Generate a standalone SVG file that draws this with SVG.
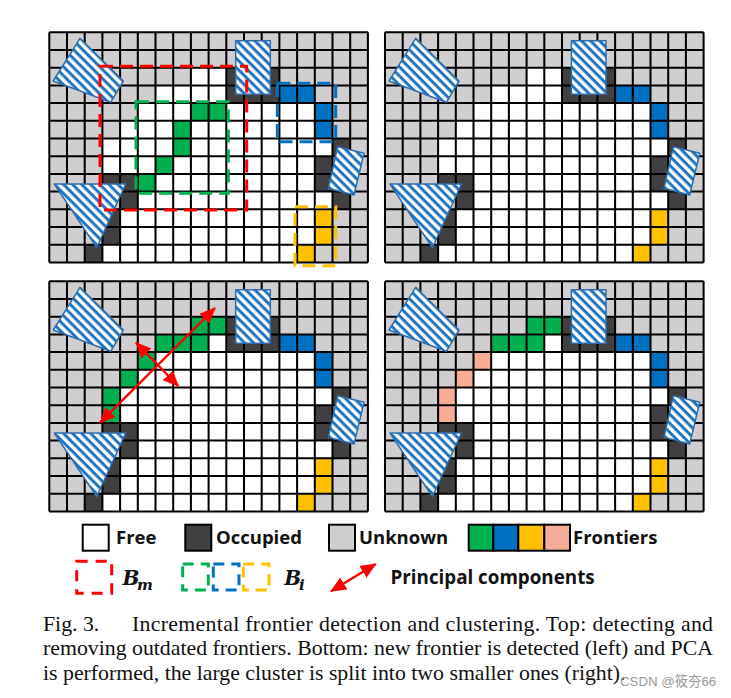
<svg xmlns="http://www.w3.org/2000/svg" xmlns:xlink="http://www.w3.org/1999/xlink" width="731" height="698" viewBox="0 0 731 698">
<style>
.unk{fill:#d0cece}.free{fill:#fff}.occ{fill:#404040}
.g{fill:#00b050}.b{fill:#0070c0}.y{fill:#ffc000}.p{fill:#f6ae99}
.lines{fill:none;stroke:#000;stroke-width:.115}
.robot{fill:url(#hatch);stroke:#2f6cae;stroke-width:1.5;stroke-linejoin:round}
.dash{fill:none;stroke-width:3}
.red{stroke:#ff0000}.dg{stroke:#00b050}.db{stroke:#0070c0}.dy{stroke:#ffc000}
.arrow{stroke:#ff0000;stroke-width:2.4;fill:none;marker-start:url(#ah);marker-end:url(#ah)}
.lab{font-family:"Open Sans","Noto Sans",sans-serif;font-weight:700;font-size:18.5px;fill:#111}
.math{font-family:"DejaVu Serif",serif;font-weight:700;font-style:italic;fill:#111}
.cap{font-family:"Liberation Serif",serif;font-size:21.8px;fill:#111}
.box{stroke:#000;stroke-width:2}
</style>
<defs>
<pattern id="hatch" patternUnits="userSpaceOnUse" width="6.4" height="6.4" patternTransform="rotate(45)">
<rect width="6.4" height="6.4" fill="#fff"/><rect width="6.4" height="3" fill="#1f75bf"/>
</pattern>
<marker id="ah" markerUnits="userSpaceOnUse" markerWidth="18" markerHeight="16" refX="15" refY="7" orient="auto-start-reverse">
<path d="M0 0L16 7L0 14z" fill="#ff0000"/>
</marker>
<g id="fills">
<rect class="unk" width="18" height="13"/>
<path class="free" d="M8 2h2v1h-2zM6 3h4v1h-4zM5 4h10v1h-10zM4 5h11v1h-11zM3 6h13v1h-13zM3 7h12v1h-12zM5 8h10v1h-10zM5 9h11v1h-11zM4 10h11v2h-11zM3 12h11v1h-11z"/>
<path class="occ" d="M10 2h3v2h-3zM16 6h1v1h-1zM15 7h1v2h-1zM3 8h2v1h-2zM4 9h1v1h-1zM3 10h1v2h-1zM2 12h1v1h-1zM16 9h1v1h-1z"/>
<path class="b" d="M13 3h2v1h-2zM15 4h1v2h-1z"/>
<path class="y" d="M15 10h1v2h-1zM14 12h1v1h-1z"/>
</g>
<path id="lines" class="lines" d="M0 0H18M0 1H18M0 2H18M0 3H18M0 4H18M0 5H18M0 6H18M0 7H18M0 8H18M0 9H18M0 10H18M0 11H18M0 12H18M0 13H18M0 0V13M1 0V13M2 0V13M3 0V13M4 0V13M5 0V13M6 0V13M7 0V13M8 0V13M9 0V13M10 0V13M11 0V13M12 0V13M13 0V13M14 0V13M15 0V13M16 0V13M17 0V13M18 0V13"/>
<g id="robots">
<polygon class="robot" points="30.7,6 74,48.7 61.4,70 4,48.7"/>
<rect class="robot" x="186.4" y="8.4" width="34.6" height="53.6"/>
<polygon class="robot" points="288.4,114.4 314.7,121 304.7,162.7 279,156"/>
<polygon class="robot" points="5,151.7 76.4,151.7 47.4,215.4"/>
</g>
</defs>

<g id="panel-top-left">
<g transform="translate(49.3 32.3) scale(17.7)">
<use href="#fills"/>
<path class="g" d="M8 4h2v1h-2zM7 5h1v2h-1zM6 7h1v1h-1zM5 8h1v1h-1z"/>
<use href="#lines"/>
</g>
<use href="#robots" transform="translate(49.3 32.3)"/>
<rect class="dash red" x="100" y="66.3" width="146.7" height="143.7" stroke-dasharray="13 7"/>
<rect class="dash dg" x="136" y="101.7" width="92.3" height="91.6" stroke-dasharray="13 7"/>
<rect class="dash db" x="277.3" y="83.3" width="58.4" height="58.4" stroke-dasharray="13 7"/>
<rect class="dash dy" x="295" y="206.7" width="40.7" height="59" stroke-dasharray="13 7"/>
</g>

<g id="panel-top-right">
<g transform="translate(385 32.3) scale(17.7)">
<use href="#fills"/>
<use href="#lines"/>
</g>
<use href="#robots" transform="translate(385 32.3)"/>
</g>

<g id="panel-bottom-left">
<g transform="translate(49.3 281.3) scale(17.7)">
<use href="#fills"/>
<path class="g" d="M8 2h2v1h-2zM6 3h3v1h-3zM5 4h1v1h-1zM4 5h1v1h-1zM3 6h1v2h-1z"/>
<use href="#lines"/>
</g>
<use href="#robots" transform="translate(49.3 281.3)"/>
<g id="connectors">
<line class="arrow" x1="100" y1="422.7" x2="215" y2="308"/>
<line class="arrow" x1="136" y1="342.7" x2="178.3" y2="386"/>
</g>
</g>

<g id="panel-bottom-right">
<g transform="translate(385 281.3) scale(17.7)">
<use href="#fills"/>
<path class="g" d="M8 2h2v1h-2zM6 3h3v1h-3z"/>
<path class="p" d="M5 4h1v1h-1zM4 5h1v1h-1zM3 6h1v2h-1z"/>
<use href="#lines"/>
</g>
<use href="#robots" transform="translate(385 281.3)"/>
</g>

<g id="legend">
<rect class="free box" x="82.7" y="524.7" width="26" height="26"/>
<text class="lab" x="116" y="544">Free</text>
<rect class="occ box" x="185.3" y="524.7" width="26" height="26"/>
<text class="lab" x="216" y="544">Occupied</text>
<rect class="unk box" x="329" y="524.7" width="26" height="26"/>
<text class="lab" x="359" y="544">Unknown</text>
<rect class="g box" x="468.7" y="524.7" width="24.6" height="26"/>
<rect class="b box" x="493.3" y="524.7" width="25" height="26"/>
<rect class="y box" x="518.3" y="524.7" width="26" height="26"/>
<rect class="p box" x="544.3" y="524.7" width="25.7" height="26"/>
<text class="lab" x="573" y="544">Frontiers</text>
<rect class="dash red" x="76.7" y="561.3" width="35" height="32" stroke-dasharray="11 8"/>
<text class="math" x="122.5" y="585" font-size="20">B</text>
<text class="math" x="137" y="590" font-size="15">m</text>
<rect class="dash dg" x="182.7" y="564" width="25.6" height="26" stroke-dasharray="11 7"/>
<rect class="dash db" x="213.3" y="564" width="25.7" height="26" stroke-dasharray="11 7"/>
<rect class="dash dy" x="243.3" y="564" width="25.7" height="26" stroke-dasharray="11 7"/>
<text class="math" x="284.3" y="585" font-size="20">B</text>
<text class="math" x="299" y="590" font-size="15">i</text>
<line class="arrow" x1="331" y1="591.3" x2="375.7" y2="564"/>
<text class="lab" x="390.5" y="584" style="font-size:18.8px">Principal components</text>
</g>

<g id="caption">
<text class="cap" x="43" y="631">Fig. 3.</text>
<text class="cap" x="132" y="631" textLength="581" lengthAdjust="spacing">Incremental frontier detection and clustering. Top: detecting and</text>
<text class="cap" x="43" y="655" textLength="670" lengthAdjust="spacing">removing outdated frontiers. Bottom: new frontier is detected (left) and PCA</text>
<text class="cap" x="43" y="680">is performed, the large cluster is split into two smaller ones (right).</text>
</g>
<text x="620" y="686" font-family="'Liberation Sans','Noto Sans CJK SC',sans-serif" font-size="13.3" fill="#999">CSDN @筱夯66</text>
</svg>
